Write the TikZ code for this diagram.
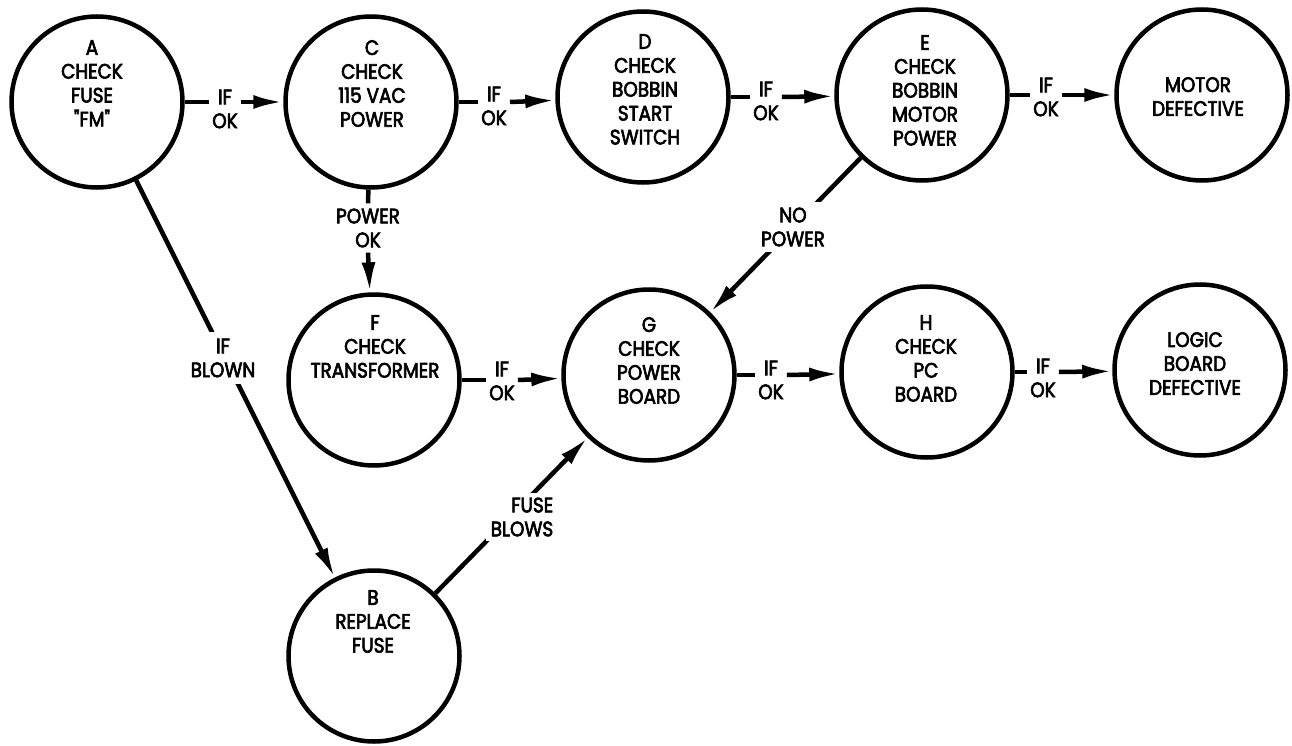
\documentclass[tikz,border=0pt]{standalone}
\usepackage{fontspec}
\setmainfont{Poppins}[FakeStretch=0.88, FakeBold=3]
\newfontfamily\noligfont{Poppins}[FakeStretch=0.88, FakeBold=3, Ligatures=TeXOff]
\usetikzlibrary{arrows.meta}
\begin{document}
\begin{tikzpicture}[x=1bp,y=-1bp,
  circ/.style={circle, draw, line width=4.5bp, minimum size=171bp, inner sep=0pt},
  txt/.style={align=center, inner sep=0pt, anchor=north, font=\fontsize{21}{24}\selectfont},
  ifok/.style={align=center, inner xsep=3bp, inner ysep=2bp, font=\fontsize{21}{24}\selectfont},
  lbl/.style={align=center, inner sep=6bp, fill=white, font=\fontsize{21}{24}\selectfont},
  conn/.style={line width=4.5bp},
  arr/.style={conn, -{Latex[length=30bp,width=14bp]}},
  ]
\useasboundingbox (0,0) rectangle (1292,746);

% circles
\node[circ] (A) at (97,102) {};
\node[circ] (C) at (371,102) {};
\node[circ] (D) at (643,97) {};
\node[circ] (E) at (922,95) {};
\node[circ] (M) at (1202,95) {};
\node[circ] (F) at (374,380) {};
\node[circ] (G) at (649,375) {};
\node[circ] (H) at (927,372) {};
\node[circ] (L) at (1200,370) {};
\node[circ] (B) at (374,656) {};

% texts
\node[txt] (tA) at (92,40) {A\\CHECK\\FUSE\\{\noligfont"FM"}};
\node[txt] (tC) at (372,40) {C\\CHECK\\115 VAC\\POWER};
\node[txt] (tD) at (645,34) {D\\CHECK\\BOBBIN\\START\\SWITCH};
\node[txt] (tE) at (925,35) {E\\CHECK\\BOBBIN\\MOTOR\\POWER};
\node[txt] (tM) at (1198,77) {MOTOR\\DEFECTIVE};
\node[txt] (tF) at (375,315) {F\\CHECK\\TRANSFORMER};
\node[txt] (tG) at (649,317) {G\\CHECK\\POWER\\BOARD};
\node[txt] (tH) at (926,315) {H\\CHECK\\PC\\BOARD};
\node[txt] (tL) at (1195,332) {LOGIC\\BOARD\\DEFECTIVE};
\node[txt] (tB) at (373,590) {B\\REPLACE\\FUSE};

% IF OK labels
\node[ifok] (l1) at (225,109) {IF\\OK};
\node[ifok] (l2) at (494,106) {IF\\OK};
\node[ifok] (l3) at (766,101) {IF\\OK};
\node[ifok] (l4) at (1046,97) {IF\\OK};
\node[ifok] (l5) at (502,381) {IF\\OK};
\node[ifok] (l6) at (771,380) {IF\\OK};
\node[ifok] (l7) at (1043,378) {IF\\OK};
\node[ifok, inner ysep=5bp] (lPO) at (368,228) {POWER\\OK};

\draw[conn] (A) -- (A -| l1.west);
\draw[arr] (A -| l1.east) -- (C);
\draw[conn] (C) -- (C -| l2.west);
\draw[arr] (C -| l2.east) -- (D);
\draw[conn] (D) -- (D -| l3.west);
\draw[arr] (D -| l3.east) -- (E);
\draw[conn] (E) -- (E -| l4.west);
\draw[arr] (E -| l4.east) -- (M);
\draw[conn] (F) -- (F -| l5.west);
\draw[arr] (F -| l5.east) -- (G);
\draw[conn] (G) -- (G -| l6.west);
\draw[arr] (G -| l6.east) -- (H);
\draw[conn] (H) -- (H -| l7.west);
\draw[arr] (H -| l7.east) -- (L);
\draw[conn] (C) -- (lPO.north);
\draw[arr] (lPO.south) -- (F);

% diagonal connectors
\draw[arr] (A) -- (B);
\draw[arr] (E) -- (G);
\draw[arr] (B) -- (G);
\node[lbl, inner sep=7bp] (lIB) at (223,358) {IF\\BLOWN};
\node[lbl] (lNP) at (793,227) {NO\\POWER};
\node[lbl, align=right, inner sep=5bp] (lFB) at (522,517) {FUSE\\BLOWS};
\end{tikzpicture}
\end{document}
